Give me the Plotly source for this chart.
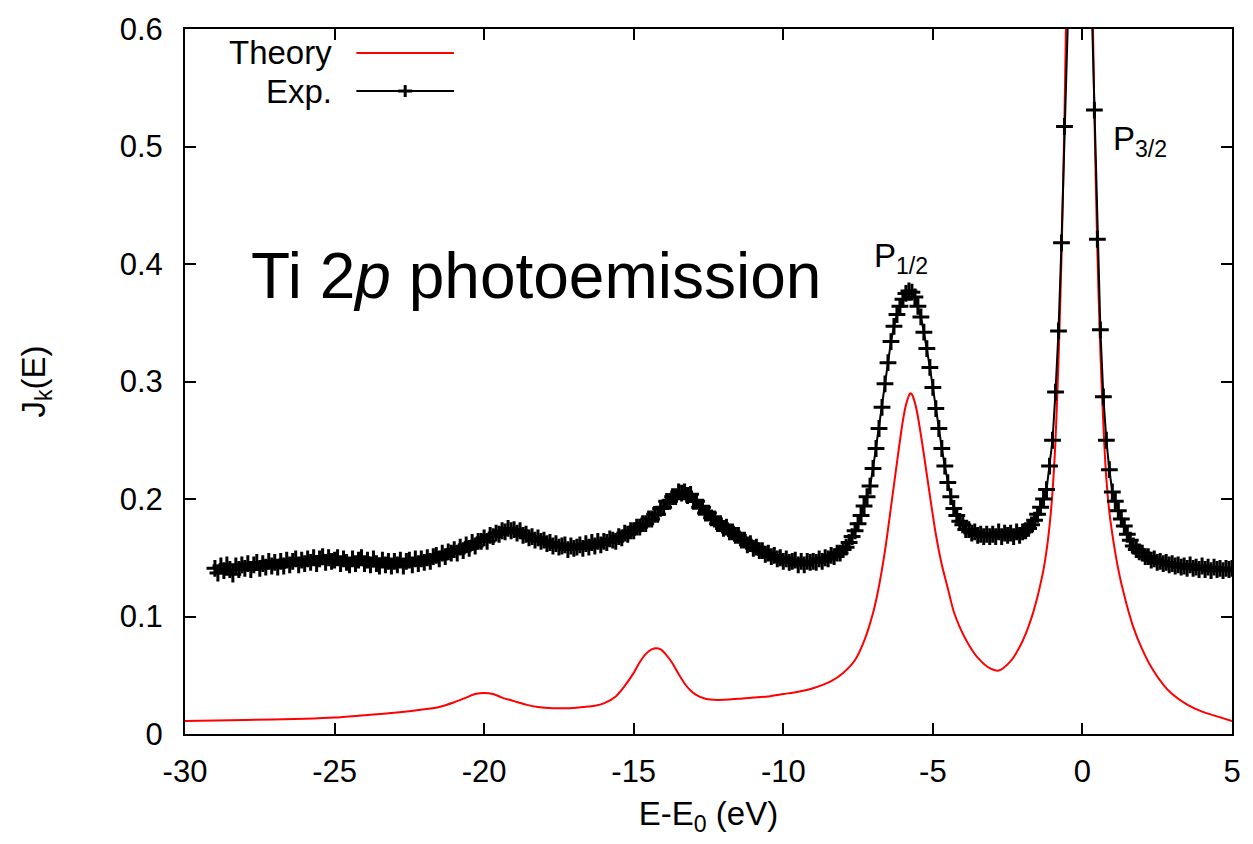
import plotly.graph_objects as go

# ---------------- data ----------------
# Theory curve (red)
theory_x = [-30.0, -28.0, -26.0, -25.0, -24.0, -23.0, -22.0, -21.5, -21.0, -20.6, -20.3, -20.0,
            -19.7, -19.4, -19.0, -18.6, -18.2, -17.7, -17.2, -16.7, -16.3, -16.0, -15.6, -15.3,
            -15.0, -14.8, -14.6, -14.4, -14.25, -14.1, -13.9, -13.7, -13.5, -13.3, -13.1, -12.9,
            -12.6, -12.2, -11.5, -11.0, -10.5, -10.0, -9.5, -9.0, -8.4, -8.0, -7.6, -7.3, -7.0,
            -6.8, -6.6, -6.4, -6.2, -6.0, -5.9, -5.8, -5.75, -5.7, -5.6, -5.5, -5.3, -5.1, -4.9,
            -4.7, -4.5, -4.3, -4.1, -3.8, -3.5, -3.1, -2.8, -2.4, -2.1, -1.9, -1.7, -1.5, -1.4,
            -1.3, -1.2, -1.1, -1.0, -0.9, -0.8, -0.7, -0.6, -0.5, -0.4, -0.3, -0.2, -0.1, 0.0,
            0.1, 0.2, 0.3, 0.4, 0.5, 0.6, 0.7, 0.8, 0.9, 1.0, 1.1, 1.2, 1.3, 1.4, 1.5, 1.7, 2.0,
            2.3, 2.7, 3.0, 3.5, 4.0, 4.5, 5.0]
theory_y = [0.011, 0.012, 0.013, 0.014, 0.016, 0.018, 0.021, 0.023, 0.027, 0.031, 0.034, 0.035,
            0.034, 0.031, 0.028, 0.025, 0.023, 0.022, 0.022, 0.023, 0.024, 0.026, 0.032, 0.041,
            0.052, 0.061, 0.068, 0.072, 0.073, 0.072, 0.067, 0.060, 0.051, 0.043, 0.037, 0.033,
            0.030, 0.029, 0.030, 0.031, 0.032, 0.034, 0.036, 0.039, 0.045, 0.052, 0.063, 0.079, 0.103,
            0.126, 0.156, 0.193, 0.231, 0.267, 0.280, 0.288, 0.290, 0.289, 0.282, 0.270, 0.238, 0.203, 0.170,
            0.144, 0.124, 0.104, 0.091, 0.076, 0.065, 0.056, 0.054, 0.062, 0.074, 0.085, 0.099, 0.117, 0.128,
            0.140, 0.156, 0.177, 0.206, 0.250, 0.318, 0.405, 0.525, 0.690, 0.910, 1.180, 1.430, 1.540, 1.430,
            1.180, 0.910, 0.690, 0.527, 0.410, 0.325, 0.263, 0.217, 0.189, 0.170, 0.154, 0.140, 0.128, 0.118, 0.108, 0.091, 0.072,
            0.057, 0.042, 0.034, 0.025, 0.019, 0.015, 0.011]

# Experimental spectrum (black, "+" markers), sampled every 0.1 eV from -29.0 eV to 5.0 eV
exp_start = -29.0
exp_step = 0.1
exp_y = [
    0.141, 0.137, 0.143, 0.139, 0.144, 0.140, 0.136, 0.143, 0.140, 0.144,  # -29.0
    0.141, 0.145, 0.140, 0.144, 0.146, 0.141, 0.145, 0.142, 0.147, 0.143,  # -28.0
    0.146, 0.142, 0.147, 0.143, 0.148, 0.144, 0.147, 0.149, 0.144, 0.148,  # -27.0
    0.145, 0.149, 0.146, 0.150, 0.145, 0.149, 0.151, 0.146, 0.150, 0.147,  # -26.0
    0.148, 0.150, 0.145, 0.149, 0.146, 0.144, 0.149, 0.145, 0.148, 0.150,  # -25.0
    0.145, 0.148, 0.144, 0.149, 0.145, 0.143, 0.148, 0.144, 0.147, 0.143,  # -24.0
    0.147, 0.144, 0.148, 0.143, 0.147, 0.148, 0.144, 0.149, 0.145, 0.149,  # -23.0
    0.146, 0.150, 0.147, 0.151, 0.152, 0.149, 0.154, 0.151, 0.155, 0.154,  # -22.0
    0.157, 0.154, 0.159, 0.156, 0.161, 0.158, 0.163, 0.160, 0.164, 0.164,  # -21.0
    0.167, 0.164, 0.169, 0.168, 0.171, 0.170, 0.173, 0.172, 0.175, 0.173,  # -20.0
    0.174, 0.171, 0.173, 0.169, 0.170, 0.167, 0.168, 0.165, 0.167, 0.164,  # -19.0
    0.165, 0.162, 0.163, 0.160, 0.162, 0.159, 0.160, 0.161, 0.157, 0.160,  # -18.0
    0.158, 0.159, 0.161, 0.158, 0.162, 0.159, 0.163, 0.160, 0.164, 0.161,  # -17.0
    0.164, 0.163, 0.166, 0.165, 0.164, 0.168, 0.167, 0.171, 0.170, 0.173,  # -16.0
    0.173, 0.176, 0.176, 0.179, 0.179, 0.183, 0.183, 0.187, 0.187, 0.192,  # -15.0
    0.193, 0.198, 0.198, 0.202, 0.202, 0.206, 0.205, 0.206, 0.203, 0.204,  # -14.0
    0.198, 0.198, 0.193, 0.193, 0.188, 0.188, 0.184, 0.183, 0.179, 0.179,  # -13.0
    0.175, 0.176, 0.172, 0.172, 0.169, 0.169, 0.165, 0.165, 0.161, 0.162,  # -12.0
    0.158, 0.159, 0.156, 0.156, 0.153, 0.154, 0.151, 0.152, 0.149, 0.150,  # -11.0
    0.147, 0.149, 0.146, 0.147, 0.148, 0.144, 0.147, 0.144, 0.147, 0.146,  # -10.0
    0.147, 0.146, 0.149, 0.147, 0.150, 0.149, 0.152, 0.151, 0.154, 0.154,  # -9.0
    0.157, 0.159, 0.163, 0.168, 0.173, 0.179, 0.186, 0.194, 0.202, 0.211,  # -8.0
    0.226, 0.243, 0.260, 0.278, 0.298, 0.316, 0.334, 0.347, 0.357, 0.364,  # -7.0
    0.370, 0.375, 0.377, 0.376, 0.372, 0.364, 0.355, 0.342, 0.328, 0.312,  # -6.0
    0.295, 0.277, 0.260, 0.243, 0.228, 0.214, 0.202, 0.192, 0.186, 0.181,  # -5.0
    0.178, 0.174, 0.174, 0.171, 0.172, 0.169, 0.170, 0.168, 0.170, 0.168,  # -4.0
    0.170, 0.168, 0.172, 0.168, 0.171, 0.169, 0.171, 0.168, 0.172, 0.169,  # -3.0
    0.172, 0.173, 0.175, 0.178, 0.182, 0.187, 0.193, 0.200, 0.208, 0.228,  # -2.0
    0.250, 0.291, 0.343, 0.418, 0.517, 0.630, 0.750, 0.860, 0.930, 0.950,  # -1.0
    0.920, 0.840, 0.740, 0.630, 0.531, 0.421, 0.344, 0.287, 0.250, 0.225,  # 0.0
    0.206, 0.198, 0.190, 0.183, 0.177, 0.170, 0.165, 0.160, 0.157, 0.155,  # 1.0
    0.154, 0.151, 0.151, 0.148, 0.149, 0.146, 0.147, 0.145, 0.146, 0.144,  # 2.0
    0.145, 0.143, 0.144, 0.142, 0.143, 0.141, 0.144, 0.141, 0.142, 0.140,  # 3.0
    0.143, 0.140, 0.142, 0.139, 0.142, 0.140, 0.141, 0.139, 0.141, 0.140,  # 4.0
    0.141,                                                                 # 5.0
]
exp_x = [round(exp_start + exp_step * i, 2) for i in range(len(exp_y))]

x_tickvals = [-30, -25, -20, -15, -10, -5, 0, 5]
x_ticktext = ["-30", "-25", "-20", "-15", "-10", "-5", "0", "5"]
y_tickvals = [0, 0.1, 0.2, 0.3, 0.4, 0.5, 0.6]
y_ticktext = ["0", "0.1", "0.2", "0.3", "0.4", "0.5", "0.6"]

series_names = ["Theory", "Exp."]
peak_labels = ["P<sub>1/2</sub>", "P<sub>3/2</sub>"]
peak_label_pos = [(-7.05, 0.405), (0.95, 0.505)]

FONT = "Liberation Sans, Arial, sans-serif"

# ---------------- figure ----------------
fig = go.Figure()

fig.add_trace(go.Scatter(
    x=theory_x, y=theory_y, mode="lines", name=series_names[0],
    line=dict(color="#ff0000", width=2, shape="spline", smoothing=0.8),
    showlegend=False,
))
fig.add_trace(go.Scatter(
    x=exp_x, y=exp_y, mode="lines+markers", name=series_names[1],
    line=dict(color="#000000", width=2),
    marker=dict(symbol="cross-thin", size=12, color="#000000",
                line=dict(color="#000000", width=3)),
    showlegend=False,
))

axis_common = dict(
    showline=True, linecolor="black", linewidth=2, mirror="ticks",
    ticks="inside", ticklen=11, tickwidth=2, tickcolor="black",
    showgrid=False, zeroline=False,
    tickfont=dict(family=FONT, size=31, color="black"),
)

fig.update_xaxes(
    range=[-30, 5], tickmode="array", tickvals=x_tickvals, ticktext=x_ticktext,
    ticklabelstandoff=9,
    title=dict(text="E-E<sub>0</sub> (eV)", font=dict(family=FONT, size=33, color="black"),
               standoff=14),
    **axis_common,
)
fig.update_yaxes(
    range=[0, 0.6], tickmode="array", tickvals=y_tickvals, ticktext=y_ticktext,
    ticklabelstandoff=14,
    title=dict(text="J<sub>k</sub>(E)", font=dict(family=FONT, size=33, color="black"),
               standoff=64),
    **axis_common,
)

annotations = [
    dict(x=-27.85, y=0.39, xref="x", yref="y", xanchor="left", yanchor="middle",
         text="Ti 2<i>p</i> photoemission", showarrow=False,
         font=dict(family=FONT, size=64, color="black")),
]
for lab, (lx, ly) in zip(peak_labels, peak_label_pos):
    annotations.append(dict(x=lx, y=ly, xref="x", yref="y", xanchor="left", yanchor="middle",
                            text=lab, showarrow=False,
                            font=dict(family=FONT, size=33, color="black")))

# hand-drawn key (gnuplot style: text left of the sample)
key_text_x = 0.1427
key_rows_y = [0.966, 0.912]
key_line_x = (0.1637, 0.2569)
key_colors = ["#ff0000", "#000000"]
for name, ky in zip(series_names, key_rows_y):
    annotations.append(dict(x=key_text_x, y=ky, xref="paper", yref="paper",
                            xanchor="right", yanchor="middle", text=name, showarrow=False,
                            font=dict(family=FONT, size=33, color="black")))

shapes = []
for col, ky in zip(key_colors, key_rows_y):
    shapes.append(dict(type="line", xref="paper", yref="paper",
                       x0=key_line_x[0], x1=key_line_x[1], y0=ky, y1=ky,
                       line=dict(color=col, width=2)))
# "+" marker in the Exp. key
mx = (key_line_x[0] + key_line_x[1]) / 2
my = key_rows_y[1]
shapes.append(dict(type="line", xref="paper", yref="paper", x0=mx - 7 / 1051, x1=mx + 7 / 1051,
                   y0=my, y1=my, line=dict(color="black", width=3)))
shapes.append(dict(type="line", xref="paper", yref="paper", x0=mx, x1=mx,
                   y0=my - 6 / 709, y1=my + 6 / 709, line=dict(color="black", width=3)))

fig.update_layout(
    width=1253, height=844,
    margin=dict(l=185, r=17, t=25, b=110),
    plot_bgcolor="white", paper_bgcolor="white",
    annotations=annotations, shapes=shapes,
    font=dict(family=FONT, color="black"),
)

fig.write_html("out.html")
